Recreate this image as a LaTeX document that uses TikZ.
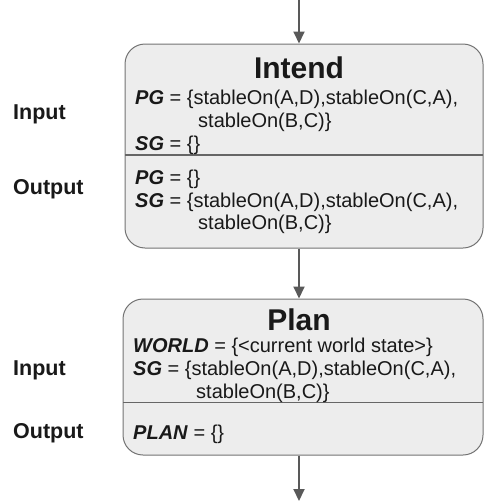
\documentclass[tikz,border=0pt]{standalone}
\usepackage{fontspec}
\setmainfont{Liberation Sans}
\usetikzlibrary{arrows.meta}
\begin{document}
\begin{tikzpicture}[x=1pt,y=-1pt,
  stage/.style={draw=black!55,line width=1pt,fill=black!7,rounded corners=20pt,inner sep=0pt},
  txt/.style={anchor=base west,inner sep=0pt,font=\fontsize{20}{23}\selectfont,text=black!90},
  ttl/.style={anchor=base,inner sep=0pt,font=\fontsize{30}{34}\selectfont\bfseries,text=black!90},
  side/.style={anchor=base west,inner sep=0pt,font=\fontsize{21.5}{25}\selectfont\bfseries,text=black!90},
  divider/.style={draw=black!60,line width=1.3pt},
  flow/.style={draw=black!65,line width=2pt,-{Triangle[length=12pt,width=11pt]}}]
\useasboundingbox (0,0) rectangle (487,501);
% boxes
\node[stage,minimum width=358pt,minimum height=204pt] (b1) at (304,146) {};
\node[stage,minimum width=360pt,minimum height=156pt] (b2) at (303,377) {};
% dividers
\coordinate (d1) at (125,155);
\coordinate (d2) at (483,155);
\draw[divider] (d1) -- (d2);
\coordinate (d3) at (123,402.5);
\coordinate (d4) at (483,402.5);
\draw[divider] (d3) -- (d4);
% arrows
\coordinate (top) at (299,0);
\coordinate (bot) at (299,501);
\draw[flow] (top) -- (top |- b1.north);
\draw[flow] (top |- b1.south) -- (top |- b2.north);
\draw[flow] (top |- b2.south) -- (bot);
% Intend box
\node[ttl] (t1) at (299,78) {Intend};
\node[txt] (l1) at (135,104) {\textbf{\textit{PG}} = \{stableOn(A,D),stableOn(C,A),};
\node[txt] (l2) at (198,127) {stableOn(B,C)\}};
\node[txt] (l3) at (135,150) {\textbf{\textit{SG}} = \{\}};
\node[txt] (l4) at (135,184) {\textbf{\textit{PG}} = \{\}};
\node[txt] (l5) at (135,207) {\textbf{\textit{SG}} = \{stableOn(A,D),stableOn(C,A),};
\node[txt] (l6) at (198,229.5) {stableOn(B,C)\}};
% Plan box
\node[ttl] (t2) at (299,330) {Plan};
\node[txt] (m1) at (133,352.5) {\textbf{\textit{WORLD}} = \{<current world state>\}};
\node[txt] (m2) at (133,375.5) {\textbf{\textit{SG}} = \{stableOn(A,D),stableOn(C,A),};
\node[txt] (m3) at (196,398) {stableOn(B,C)\}};
\node[txt] (m4) at (133,439) {\textbf{\textit{PLAN}} = \{\}};
% side labels
\node[side] (i1) at (13,119) {Input};
\node[side] (o1) at (13,194) {Output};
\node[side] (i2) at (13,375) {Input};
\node[side] (o2) at (13,438) {Output};
\end{tikzpicture}
\end{document}
